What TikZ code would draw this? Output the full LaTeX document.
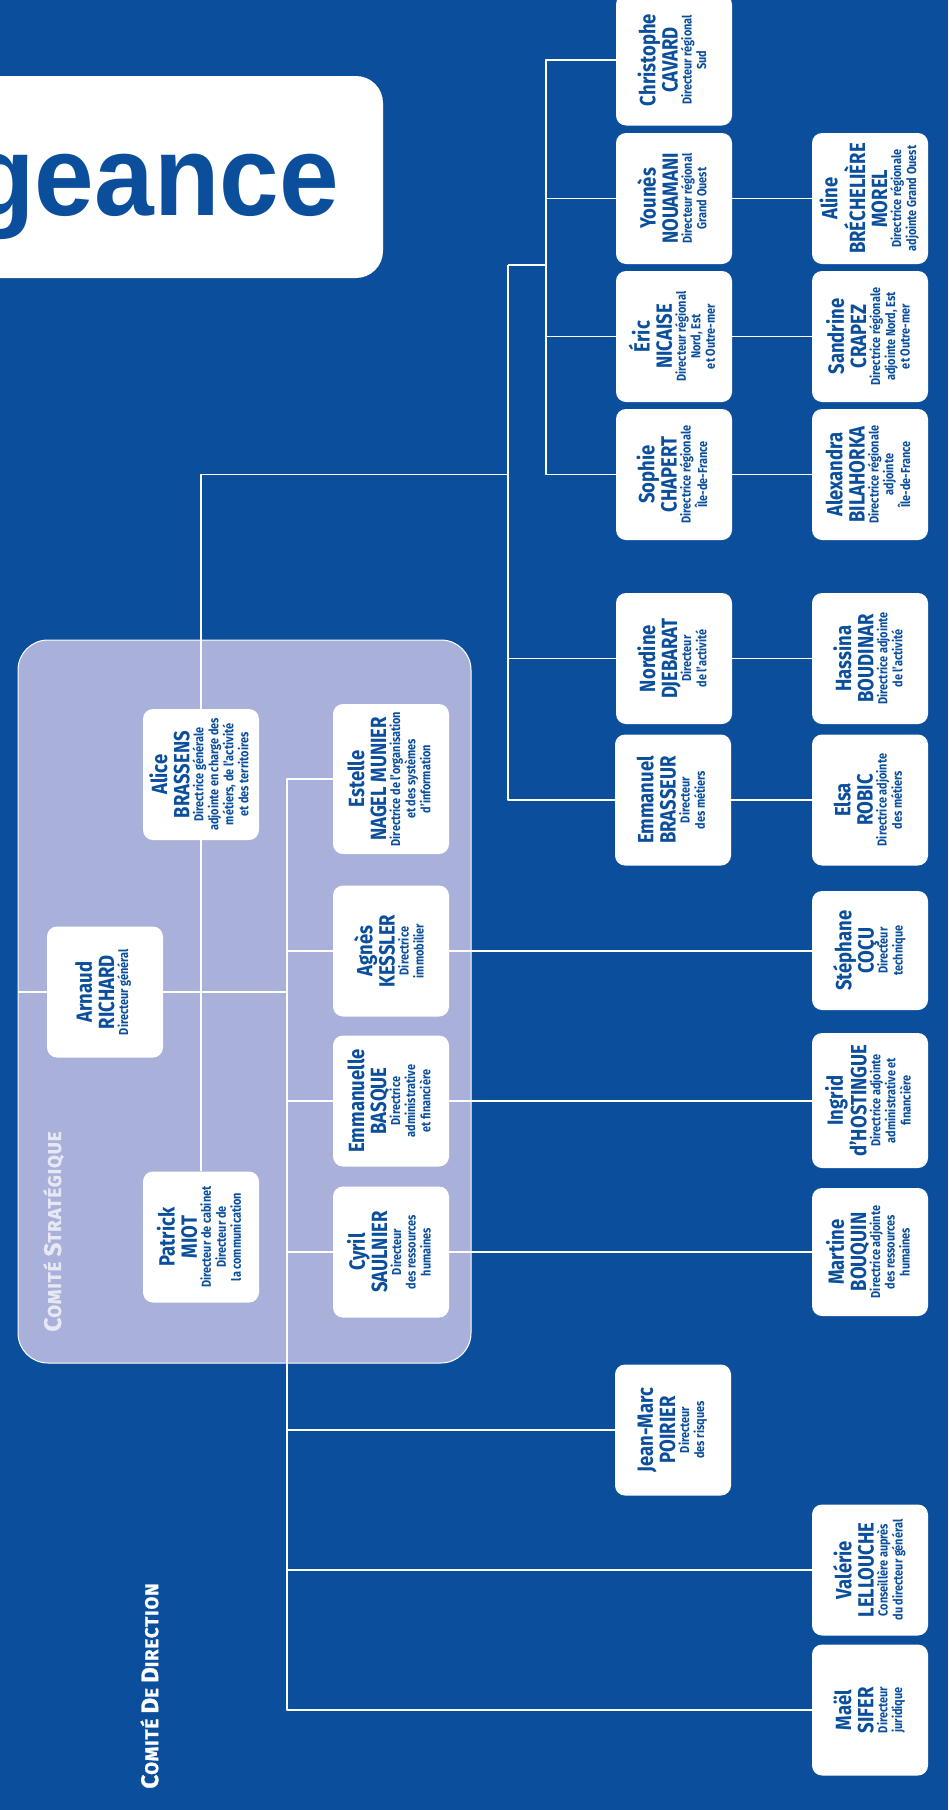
\documentclass[tikz,border=0pt]{standalone}
\usepackage{fontspec}
\usepackage{graphicx}
\usepackage{tikz}

\newfontfamily\orgfont[FakeStretch=0.84]{Fira Sans}
\newfontfamily\logofont[FakeStretch=0.94]{Liberation Sans}
\newfontfamily\tagfont[LetterSpace=5, BoldFeatures={FakeBold=1.2}]{Fira Sans}

\definecolor{orgblue}{HTML}{0B4F9C}
\definecolor{stratfill}{HTML}{A9B1DA}
\definecolor{strattext}{HTML}{E6E8F4}

\newcommand{\namefont}{\orgfont\bfseries\fontsize{22}{22}\selectfont}
\newcommand{\rolefont}{\orgfont\bfseries\fontsize{13}{14.5}\selectfont}
\newcommand{\who}[3]{\rotatebox{90}{\namefont\begin{tabular}{@{}c@{}}#1\\#2\\[-8pt]\rolefont\begin{tabular}[t]{@{}c@{}}#3\end{tabular}\end{tabular}}}
\newcommand{\tagcap}[1]{{\fontsize{24}{24}\selectfont #1}}

\tikzset{
  person/.style={fill=white, rounded corners=10pt, minimum width=116pt, minimum height=131pt, inner sep=2pt, text=orgblue},
  link/.style={draw=white, line width=1.5pt},
  tag/.style={rotate=90, inner sep=0pt, font=\tagfont\bfseries\fontsize{18.5}{18.5}\selectfont},
}

\begin{document}
\begin{tikzpicture}[x=1pt, y=-1pt, line join=round]
\useasboundingbox (0,0) rectangle (948,1810);
\clip (0,0) rectangle (948,1810);
\fill[orgblue] (0,0) rectangle (948,1810);

% title card
\fill[white, rounded corners=27pt] (-60,76) rectangle (383,278);
\node[anchor=base east, inner sep=0pt, text=orgblue, font=\logofont\bfseries\fontsize{114}{114}\selectfont] (logo) at (339,215) {geance};

% comite strategique
\node[fill=stratfill, draw=white, line width=1pt, rounded corners=30pt, minimum width=453pt, minimum height=723pt] (cstrat) at (244.5,1001.5) {};
\node[tag, text=strattext] (cstratlabel) at (53.5,1231.5) {\tagcap{C}OMITÉ \tagcap{S}TRATÉGIQUE};
\node[tag, text=white] (codirlabel) at (149.5,1686) {\tagcap{C}OMITÉ \tagcap{D}E \tagcap{D}IRECTION};

% direction
\node[person] (richard) at (105,992) {\who{Arnaud}{RICHARD}{Directeur général}};
\node[person] (brassens) at (201,774.5) {\who{Alice}{BRASSENS}{Directrice générale\\adjointe en charge des\\métiers, de l’activité\\et des territoires}};
\node[person] (miot) at (201,1237) {\who{Patrick}{MIOT}{Directeur de cabinet\\Directeur de\\la communication}};
\node[person, minimum height=150pt] (nagel) at (391,779) {\who{Estelle}{NAGEL MUNIER}{Directrice de l’organisation\\et des systèmes\\d’information}};
\node[person] (kessler) at (391,951) {\who{Agnès}{KESSLER}{Directrice\\immobilier}};
\node[person] (basque) at (391,1101) {\who{Emmanuelle}{BASQUE}{Directrice\\administrative\\et financière}};
\node[person] (saulnier) at (391,1252) {\who{Cyril}{SAULNIER}{Directeur\\des ressources\\humaines}};

% directeurs
\node[person] (cavard) at (674,60) {\who{Christophe}{CAVARD}{Directeur régional\\Sud}};
\node[person] (nouamani) at (674,198.5) {\who{Younès}{NOUAMANI}{Directeur régional\\Grand Ouest}};
\node[person] (nicaise) at (674,336.5) {\who{Éric}{NICAISE}{Directeur régional\\Nord, Est\\et Outre-mer}};
\node[person] (chapert) at (674,474.5) {\who{Sophie}{CHAPERT}{Directrice régionale\\Île-de-France}};
\node[person] (djebarat) at (674,658.5) {\who{Nordine}{DJEBARAT}{Directeur\\de l’activité}};
\node[person] (brasseur) at (673,800) {\who{Emmanuel}{BRASSEUR}{Directeur\\des métiers}};
\node[person] (poirier) at (673,1430) {\who{Jean-Marc}{POIRIER}{Directeur\\des risques}};

% adjoints
\node[person] (morel) at (870,198.5) {\who{Aline}{BRÉCHELIÈRE\\MOREL}{Directrice régionale\\adjointe Grand Ouest}};
\node[person] (crapez) at (870,336.5) {\who{Sandrine}{CRAPEZ}{Directrice régionale\\adjointe Nord, Est\\et Outre-mer}};
\node[person] (bilahorka) at (870,474.5) {\who{Alexandra}{BILAHORKA}{Directrice régionale\\adjointe\\Île-de-France}};
\node[person] (boudinar) at (870,658.5) {\who{Hassina}{BOUDINAR}{Directrice adjointe\\de l’activité}};
\node[person] (robic) at (870,800) {\who{Elsa}{ROBIC}{Directrice adjointe\\des métiers}};
\node[person, minimum height=119pt] (cocu) at (870,950.5) {\who{Stéphane}{COÇU}{Directeur\\technique}};
\node[person, minimum height=135pt] (hostingue) at (870,1100.5) {\who{Ingrid}{d’HOSTINGUE}{Directrice adjointe\\administrative et\\financière}};
\node[person, minimum height=128pt] (bouquin) at (870,1252) {\who{Martine}{BOUQUIN}{Directrice adjointe\\des ressources\\humaines}};
\node[person] (lellouche) at (870,1570) {\who{Valérie}{LELLOUCHE}{Conseillère auprès\\du directeur général}};
\node[person] (sifer) at (870,1710) {\who{Maël}{SIFER}{Directeur\\juridique}};

% connectors
\coordinate (regions) at (508,265);
\coordinate (zones) at (546,265);
\coordinate (dirx) at (287,779);

\draw[link] (brassens.north) |- (regions |- chapert);
\draw[link] (regions) |- (brasseur.west);
\draw[link] (regions |- djebarat) -- (djebarat.west);
\draw[link] (regions) -- (zones);
\draw[link] (cavard.west) -| (zones) |- (chapert.west);
\draw[link] (zones |- nouamani) -- (nouamani.west);
\draw[link] (zones |- nicaise) -- (nicaise.west);
\foreach \a/\b in {nouamani/morel, nicaise/crapez, chapert/bilahorka, djebarat/boudinar, brasseur/robic, kessler/cocu, basque/hostingue, saulnier/bouquin}
  \draw[link] (\a.east) -- (\a.east -| \b.west);

\draw[link] (nagel.west) -| (dirx) |- (sifer.west);
\foreach \n in {kessler, basque, saulnier, poirier, lellouche}
  \draw[link] (dirx |- \n.west) -- (\n.west);
\draw[link] (cstrat.west |- richard.west) -- (richard.west);
\draw[link] (richard.east) -- (richard.east -| dirx);
\draw[link] (brassens.south) -- (miot.north);
\end{tikzpicture}
\end{document}
